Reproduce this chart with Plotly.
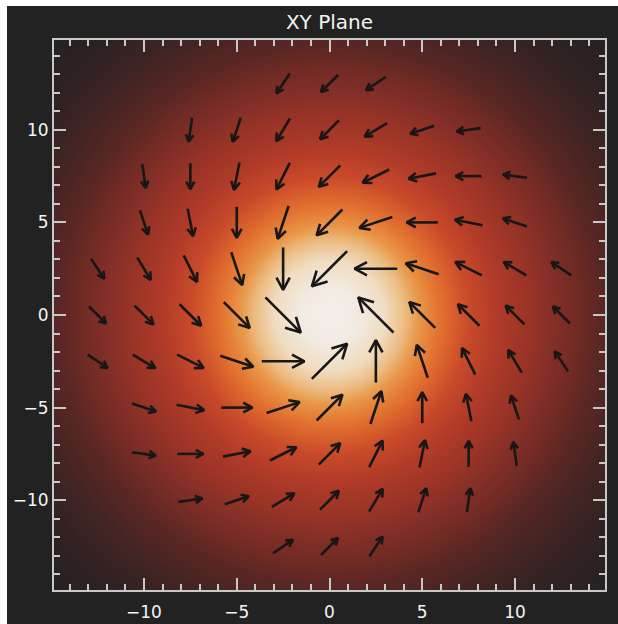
import numpy as np
import plotly.graph_objects as go

# Arrow anchor grid (data units)
grid_x = [-12.5, -10.0, -7.5, -5.0, -2.5, 0.0, 2.5, 5.0, 7.5, 10.0, 12.5]
grid_y = [12.5, 10.0, 7.5, 5.0, 2.5, 0.0, -2.5, -5.0, -7.5, -10.0, -12.5]

N = None
# Velocity components, one row per grid_y value (None = no arrow drawn)
vel_u = [
    [N, N, N, N, -0.716, -0.919, -1.073, N, N, N, N],
    [N, N, -0.184, -0.433, -0.731, -1.018, -1.218, -1.300, -1.287, N, N],
    [N, 0.184, 0.0, -0.296, -0.716, -1.160, -1.431, -1.481, -1.400, -1.287, N],
    [N, 0.433, 0.296, 0.0, -0.591, -1.393, -1.774, -1.680, -1.481, -1.300, N],
    [0.716, 0.731, 0.716, 0.591, 0.0, -1.902, -2.300, -1.774, -1.431, -1.218, -1.073],
    [0.919, 1.018, 1.160, 1.393, 1.902, N, -1.902, -1.393, -1.160, -1.018, -0.919],
    [1.073, 1.218, 1.431, 1.774, 2.300, 1.902, 0.0, -0.591, -0.716, -0.731, -0.716],
    [N, 1.300, 1.481, 1.680, 1.774, 1.393, 0.591, 0.0, -0.296, -0.433, N],
    [N, 1.287, 1.400, 1.481, 1.431, 1.160, 0.716, 0.296, 0.0, -0.184, N],
    [N, N, 1.287, 1.300, 1.218, 1.018, 0.731, 0.433, 0.184, N, N],
    [N, N, N, N, 1.073, 0.919, 0.716, N, N, N, N],
]
vel_v = [
    [N, N, N, N, -1.073, -0.919, -0.716, N, N, N, N],
    [N, N, -1.287, -1.300, -1.218, -1.018, -0.731, -0.433, -0.184, N, N],
    [N, -1.287, -1.400, -1.481, -1.431, -1.160, -0.716, -0.296, 0.0, 0.184, N],
    [N, -1.300, -1.481, -1.680, -1.774, -1.393, -0.591, 0.0, 0.296, 0.433, N],
    [-1.073, -1.218, -1.431, -1.774, -2.300, -1.902, 0.0, 0.591, 0.716, 0.731, 0.716],
    [-0.919, -1.018, -1.160, -1.393, -1.902, N, 1.902, 1.393, 1.160, 1.018, 0.919],
    [-0.716, -0.731, -0.716, -0.591, 0.0, 1.902, 2.300, 1.774, 1.431, 1.218, 1.073],
    [N, -0.433, -0.296, 0.0, 0.591, 1.393, 1.774, 1.680, 1.481, 1.300, N],
    [N, -0.184, 0.0, 0.296, 0.716, 1.160, 1.431, 1.481, 1.400, 1.287, N],
    [N, N, 0.184, 0.433, 0.731, 1.018, 1.218, 1.300, 1.287, N, N],
    [N, N, N, N, 0.716, 0.919, 1.073, N, N, N, N],
]

# Radial glow: colour stops against distance from the origin
glow_radius = [0.0, 1.5, 3.0, 4.0, 4.8, 5.5, 6.2, 7.5, 9.0, 10.7, 12.0, 13.4, 14.6, 16.5, 18.6, 21.0]
glow_color = ["#f3efeb", "#f2ebe3", "#f0dcc0", "#ecbd84", "#e89848", "#e57f38",
              "#df6a2e", "#c94a2a", "#b13b28", "#9a3426", "#852f27", "#702a24",
              "#5a2724", "#432423", "#302222", "#262222"]

axis_range = [-14.85, 14.85]
r_max = glow_radius[-1]

gx = np.linspace(axis_range[0], axis_range[1], 241)
gy = np.linspace(axis_range[0], axis_range[1], 241)
GX, GY = np.meshgrid(gx, gy)
dist = np.sqrt(GX ** 2 + GY ** 2)

colorscale = [[r / r_max, c] for r, c in zip(glow_radius, glow_color)]

fig = go.Figure()
fig.add_trace(go.Heatmap(
    x=gx, y=gy, z=dist, zmin=0, zmax=r_max,
    colorscale=colorscale, showscale=False, zsmooth="best", hoverinfo="skip",
))

# Arrows centred on their grid point, with an open two-barb head
head_frac = 0.33
head_ang = np.deg2rad(28)
ax_pts, ay_pts = [], []
for r, yv in enumerate(grid_y):
    for c, xv in enumerate(grid_x):
        u, v = vel_u[r][c], vel_v[r][c]
        if u is None:
            continue
        x0, y0 = xv - u / 2, yv - v / 2
        x1, y1 = xv + u / 2, yv + v / 2
        barbs = []
        for s in (1, -1):
            ca, sa = np.cos(s * head_ang), np.sin(s * head_ang)
            bx = -(u * ca - v * sa) * head_frac
            by = -(u * sa + v * ca) * head_frac
            barbs.append((x1 + bx, y1 + by))
        ax_pts += [x0, x1, None, barbs[0][0], x1, barbs[1][0], None]
        ay_pts += [y0, y1, None, barbs[0][1], y1, barbs[1][1], None]

fig.add_trace(go.Scatter(
    x=ax_pts, y=ay_pts, mode="lines",
    line=dict(color="#171717", width=2.6), hoverinfo="skip",
))

frame_col = "#c8c8c8"
axis_style = dict(
    range=axis_range, showgrid=False, zeroline=False, automargin=False,
    ticks="inside", ticklen=12, tickwidth=2, tickcolor=frame_col,
    tick0=0, dtick=5, mirror="allticks",
    showline=True, linecolor=frame_col, linewidth=2,
    tickfont=dict(color="#f4f4f4", size=17, family="DejaVu Sans"),
    minor=dict(ticks="inside", ticklen=6, tickwidth=2, tickcolor=frame_col,
               dtick=1, tick0=0, showgrid=False),
)

fig.update_xaxes(**axis_style, ticklabelstandoff=6)
fig.update_yaxes(**axis_style)

fig.update_layout(
    width=618, height=624,
    margin=dict(l=54, r=13, t=40, b=34),
    paper_bgcolor="white", plot_bgcolor="#222222",
    showlegend=False,
    title=dict(text="XY Plane", x=0.5, xref="paper", xanchor="center",
               y=1 - 22 / 624, yref="container", yanchor="middle",
               font=dict(color="#f4f4f4", size=20, family="DejaVu Sans")),
    shapes=[dict(type="rect", xref="paper", yref="paper",
                 x0=(7 - 54) / 551, x1=1.2, y0=-0.3, y1=(590 - 6) / 550,
                 fillcolor="#222222", line=dict(width=0), layer="below")],
)

fig.write_html("out.html")
